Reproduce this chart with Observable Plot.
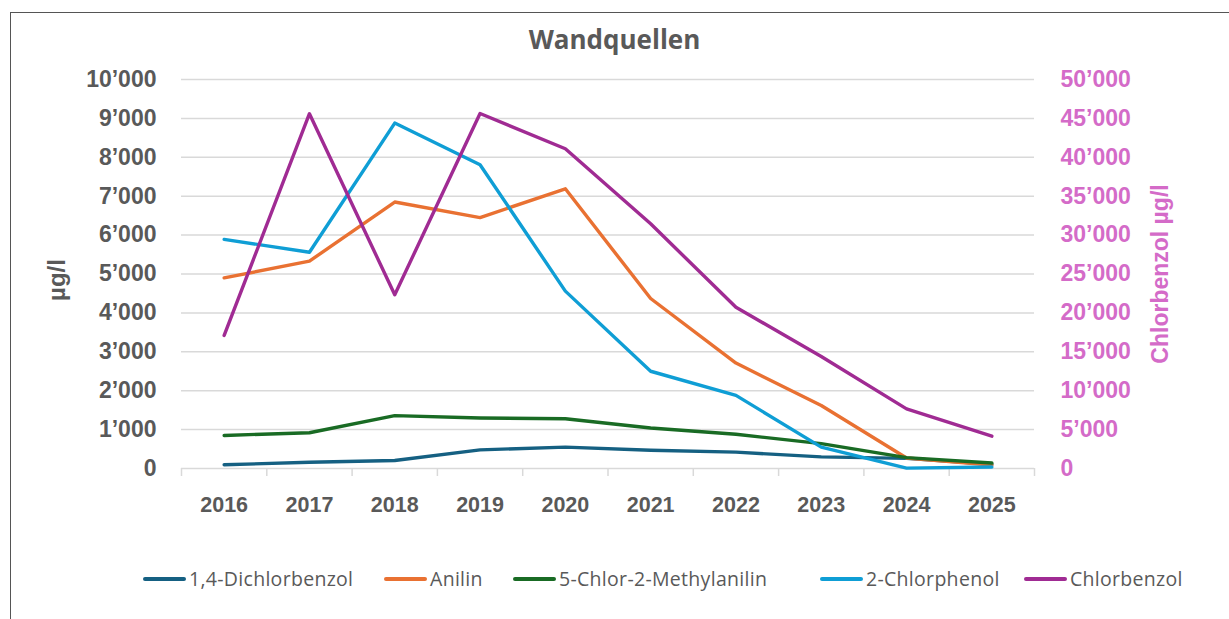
<!DOCTYPE html>
<html>
<head>
<meta charset="utf-8">
<script src="https://cdn.jsdelivr.net/npm/d3@7"></script>
<script src="https://cdn.jsdelivr.net/npm/@observablehq/plot@0.6"></script>
<style>
  html, body { margin: 0; padding: 0; background: #fff; overflow: hidden; width: 1229px; height: 619px; }
  #frame { position: absolute; left: 10px; top: 12px; width: 1400px; height: 800px; border: 1.5px solid #555; box-sizing: border-box; }
  #title { position: absolute; left: 0; width: 1229px; top: 21px; text-align: center; font-family: "Open Sans", sans-serif; font-weight: 700; font-size: 26px; color: #595959; }
  #chart { position: absolute; left: 0; top: 0; }
  #legend { position: absolute; left: 0; top: 565px; width: 1229px; font-family: "Open Sans", sans-serif; font-size: 19.5px; letter-spacing: 0.3px; color: #595959; }
  .item { position: absolute; display: flex; align-items: center; white-space: nowrap; }
  .sw { display: inline-block; width: 43px; height: 4px; border-radius: 2px; margin-right: 3px; }
</style>
</head>
<body>
<div id="frame"></div>
<div id="chart"></div>
<div id="title">Wandquellen</div>
<div id="legend"></div>
<script>
// ---- data ----
const years = [2016, 2017, 2018, 2019, 2020, 2021, 2022, 2023, 2024, 2025];
const seriesNames = ["1,4-Dichlorbenzol", "Anilin", "5-Chlor-2-Methylanilin", "2-Chlorphenol", "Chlorbenzol"];
const dichlorbenzol = [95, 160, 205, 480, 550, 470, 420, 300, 260, 110];
const anilin = [4900, 5330, 6850, 6450, 7190, 4370, 2710, 1620, 270, 90];
const chlorMethylanilin = [850, 920, 1360, 1300, 1280, 1040, 880, 640, 280, 140];
const chlorphenol = [5890, 5560, 8880, 7810, 4560, 2500, 1880, 550, 10, 40];
const chlorbenzol = [17100, 45600, 22330, 45630, 41100, 31450, 20730, 14400, 7670, 4150];
const leftTicks = [0, 1000, 2000, 3000, 4000, 5000, 6000, 7000, 8000, 9000, 10000];
const rightTicks = [0, 5000, 10000, 15000, 20000, 25000, 30000, 35000, 40000, 45000, 50000];
const colors = ["#156082", "#E97132", "#196B24", "#0F9ED5", "#A02B93"];
const rightColor = "#D46BC8";
const textColor = "#595959";

// ---- build ----
const ratio = d3.max(rightTicks) / d3.max(leftTicks);
const valuesList = [dichlorbenzol, anilin, chlorMethylanilin, chlorphenol, chlorbenzol];
const table = seriesNames.flatMap((name, i) =>
  years.map((yr, j) => ({series: name, year: yr, value: valuesList[i][j], right: name === "Chlorbenzol"})));
const fmt = d3.formatLocale({decimal: ".", thousands: "\u2019", grouping: [3], currency: ["", ""]}).format(",d");
const bounds = years.map(y => y - 0.5).concat([years[years.length - 1] + 0.5]);

const W = 1229, H = 530;
const chart = Plot.plot({
  width: W,
  height: H,
  marginLeft: 181,
  marginRight: 195,
  marginTop: 79,
  marginBottom: 62,
  style: {fontFamily: "'Liberation Sans', Arial, sans-serif", background: "transparent", overflow: "visible"},
  x: {domain: [bounds[0], bounds[bounds.length - 1]], axis: null},
  y: {domain: [0, d3.max(leftTicks)], axis: null},
  color: {domain: seriesNames, range: colors},
  marks: [
    Plot.gridY(leftTicks, {stroke: "#d9d9d9", strokeOpacity: 1, strokeWidth: 1.5}),
    Plot.axisX(bounds, {tickSize: 8, tickFormat: () => "", label: null, stroke: "#d9d9d9", strokeOpacity: 1, strokeWidth: 1.5}),
    Plot.axisX(years, {tickSize: 0, tickPadding: 28, label: null, tickFormat: d => String(d), fontSize: 21.5, fontWeight: "bold", fill: textColor}),
    Plot.axisY(leftTicks, {anchor: "left", tickSize: 0, tickPadding: 25, label: null, tickFormat: fmt, fontSize: 23, fontWeight: "bold", fill: textColor}),
    Plot.axisY(rightTicks.map(t => t / ratio), {anchor: "right", tickSize: 0, tickPadding: 26, label: null, tickFormat: d => fmt(d * ratio), fontSize: 23, fontWeight: "bold", fill: rightColor, textAnchor: "start"}),
    Plot.text(["µg/l"], {frameAnchor: "left", textAnchor: "middle", dx: -124, dy: 6, rotate: -90, fontSize: 24, fontWeight: "bold", fill: textColor}),
    Plot.text(["Chlorbenzol µg/l"], {frameAnchor: "right", textAnchor: "middle", dx: 126, rotate: -90, fontSize: 23, fontWeight: "bold", fill: rightColor}),
    Plot.line(table, {x: "year", y: d => d.right ? d.value / ratio : d.value, z: "series", stroke: "series", strokeWidth: 3.4, strokeLinejoin: "round", strokeLinecap: "round"})
  ]
});
document.getElementById("chart").appendChild(chart);

// legend
const legendX = [143, 384, 513, 820, 1024];
const legend = document.getElementById("legend");
seriesNames.forEach((name, i) => {
  const item = document.createElement("div");
  item.className = "item";
  item.style.left = legendX[i] + "px";
  item.innerHTML = `<span class="sw" style="background:${colors[i]}"></span><span>${name}</span>`;
  legend.appendChild(item);
});
</script>
</body>
</html>
